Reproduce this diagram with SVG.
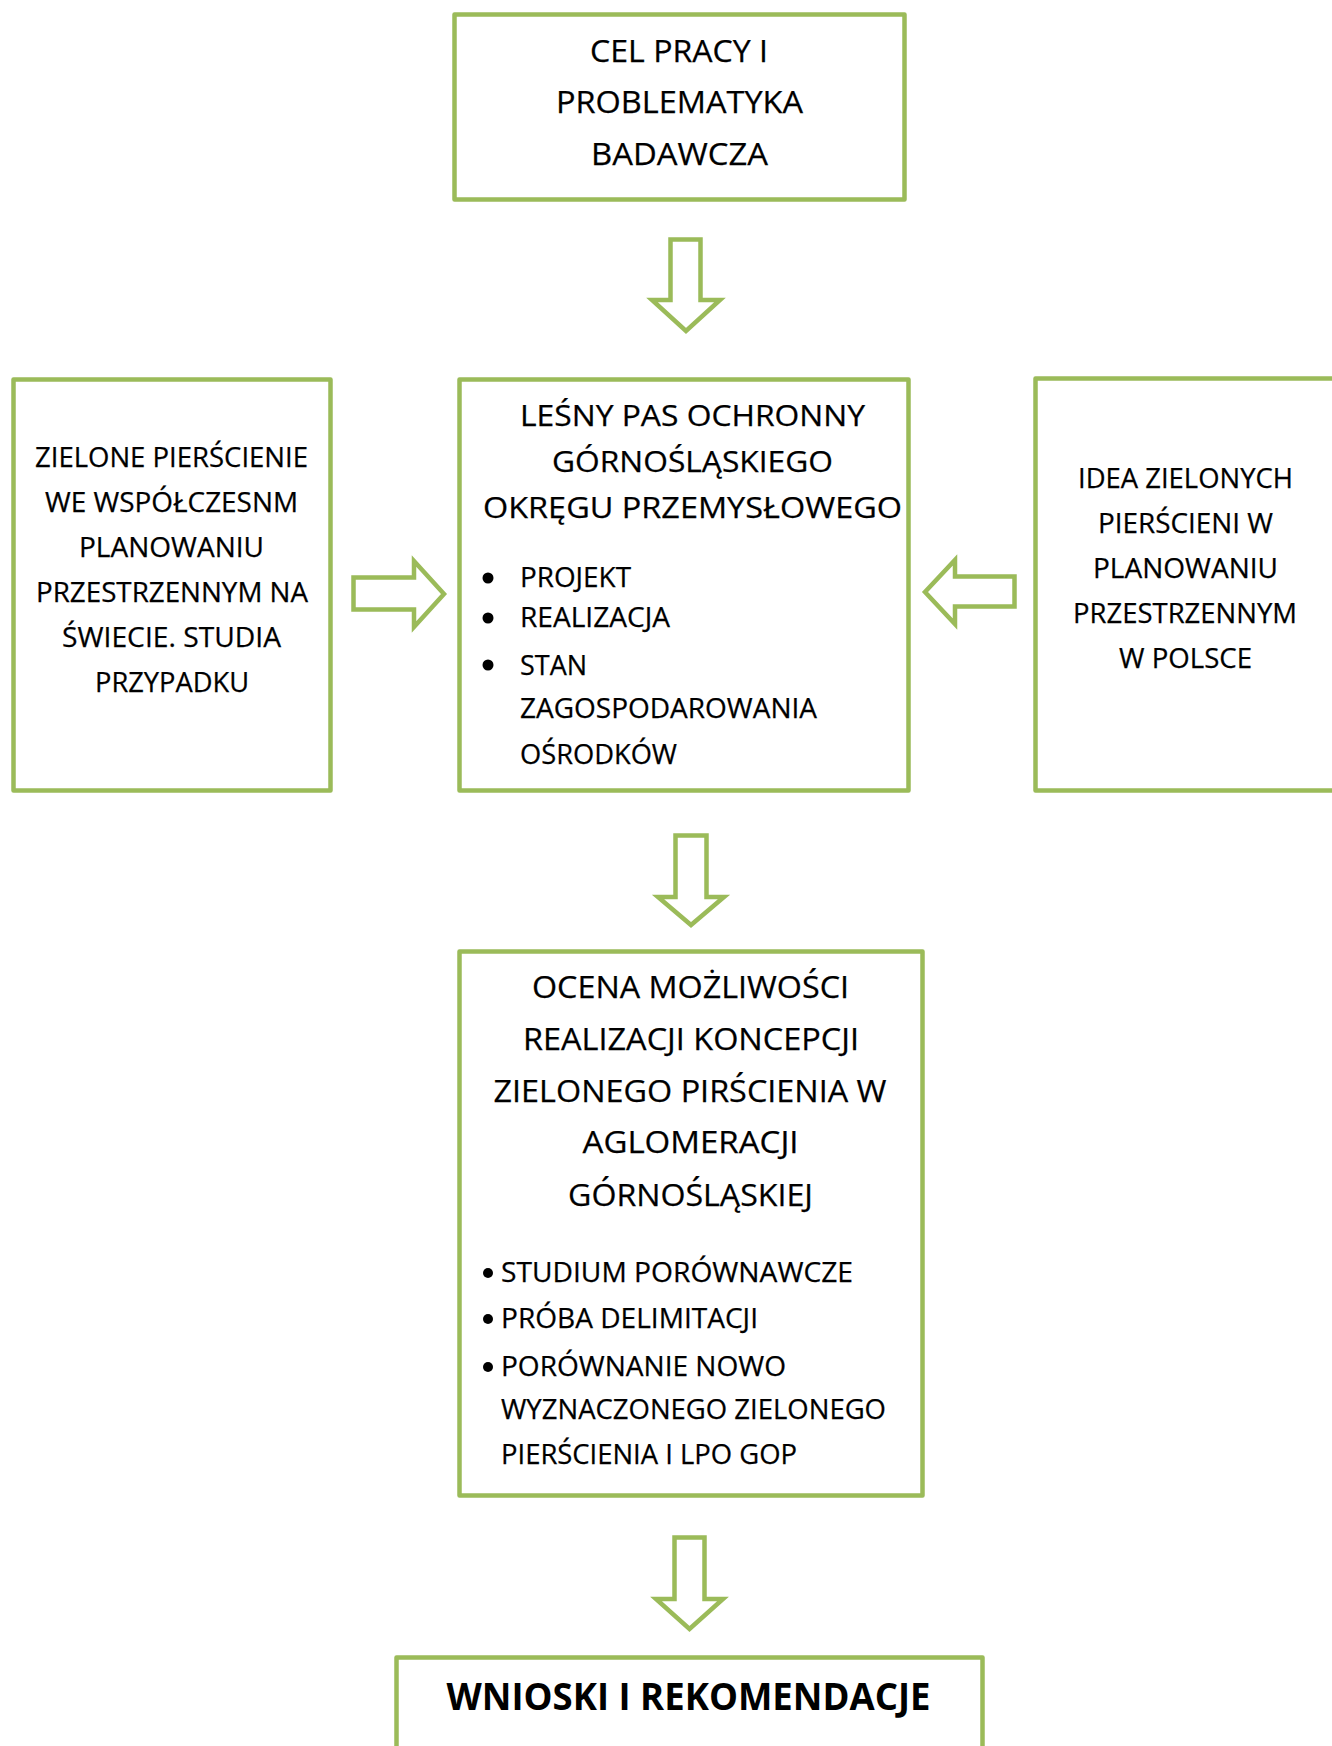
<svg xmlns="http://www.w3.org/2000/svg" width="1332" height="1746" viewBox="0 0 1332 1746">
<style>
.box{fill:#ffffff;stroke:#9BBB59;stroke-width:4.5;stroke-linejoin:round}
.arr{fill:#ffffff;stroke:#9BBB59;stroke-width:4.5;stroke-linejoin:miter}
text{font-family:"Open Sans","Liberation Sans",sans-serif;fill:#000000;stroke:#000000;stroke-width:0.25}
.c{text-anchor:middle}
.t31{font-size:31px}
.t29{font-size:29px}
.t27{font-size:27px}
.b{font-size:37px;font-weight:bold;stroke-width:0}
.dot{fill:#000000}
</style>
<rect width="1332" height="1746" fill="#ffffff"/>
<g id="connectors">
<polygon class="arr" points="670.5,239.5 700.5,239.5 700.5,300 720,300 686,331 652,300 670.5,300"/>
<polygon class="arr" points="353.5,577.5 414,577.5 414,561 444,594 414,627 414,609.5 353.5,609.5"/>
<polygon class="arr" points="1014.5,576.5 955,576.5 955,560 925,592 955,624 955,606.5 1014.5,606.5"/>
<polygon class="arr" points="675.5,835.5 706.5,835.5 706.5,897 724,897 691,925 658,897 675.5,897"/>
<polygon class="arr" points="674.5,1537.5 704.5,1537.5 704.5,1599 723,1599 689.5,1629 656,1599 674.5,1599"/>
</g>
<g id="node-cel">
<rect class="box" x="454.5" y="14.5" width="450" height="185"/>
<text class="c t31" x="679" y="62" textLength="178" lengthAdjust="spacingAndGlyphs">CEL PRACY I</text>
<text class="c t31" x="679.5" y="113" textLength="247" lengthAdjust="spacingAndGlyphs">PROBLEMATYKA</text>
<text class="c t31" x="679.5" y="165" textLength="177" lengthAdjust="spacingAndGlyphs">BADAWCZA</text>
</g>
<g id="node-zielone">
<rect class="box" x="13.5" y="379.5" width="317" height="411"/>
<text class="c t27" x="171.5" y="467" textLength="273" lengthAdjust="spacingAndGlyphs">ZIELONE PIERŚCIENIE</text>
<text class="c t27" x="171.5" y="512" textLength="253" lengthAdjust="spacingAndGlyphs">WE WSPÓŁCZESNM</text>
<text class="c t27" x="171.5" y="557" textLength="185" lengthAdjust="spacingAndGlyphs">PLANOWANIU</text>
<text class="c t27" x="172" y="602" textLength="272" lengthAdjust="spacingAndGlyphs">PRZESTRZENNYM NA</text>
<text class="c t27" x="171.5" y="647" textLength="219" lengthAdjust="spacingAndGlyphs">ŚWIECIE. STUDIA</text>
<text class="c t27" x="172" y="692" textLength="154" lengthAdjust="spacingAndGlyphs">PRZYPADKU</text>
</g>
<g id="node-lesny">
<rect class="box" x="459.5" y="379.5" width="449" height="411"/>
<text class="c t29" x="692.5" y="426" textLength="345" lengthAdjust="spacingAndGlyphs">LEŚNY PAS OCHRONNY</text>
<text class="c t29" x="692.5" y="472" textLength="281" lengthAdjust="spacingAndGlyphs">GÓRNOŚLĄSKIEGO</text>
<text class="c t29" x="692.5" y="518" textLength="419" lengthAdjust="spacingAndGlyphs">OKRĘGU PRZEMYSŁOWEGO</text>
<circle class="dot" cx="488" cy="578" r="5.5"/>
<circle class="dot" cx="488" cy="618" r="5.5"/>
<circle class="dot" cx="488" cy="665" r="5.5"/>
<text class="t27" x="520" y="587" textLength="111" lengthAdjust="spacingAndGlyphs">PROJEKT</text>
<text class="t27" x="520" y="627" textLength="150" lengthAdjust="spacingAndGlyphs">REALIZACJA</text>
<text class="t27" x="520" y="675" textLength="67" lengthAdjust="spacingAndGlyphs">STAN</text>
<text class="t27" x="520" y="718" textLength="297" lengthAdjust="spacingAndGlyphs">ZAGOSPODAROWANIA</text>
<text class="t27" x="520" y="764" textLength="157" lengthAdjust="spacingAndGlyphs">OŚRODKÓW</text>
</g>
<g id="node-idea">
<rect class="box" x="1035.5" y="378.5" width="320" height="412"/>
<text class="c t27" x="1185.5" y="488" textLength="215" lengthAdjust="spacingAndGlyphs">IDEA ZIELONYCH</text>
<text class="c t27" x="1185.5" y="533" textLength="175" lengthAdjust="spacingAndGlyphs">PIERŚCIENI W</text>
<text class="c t27" x="1185.5" y="578" textLength="185" lengthAdjust="spacingAndGlyphs">PLANOWANIU</text>
<text class="c t27" x="1185" y="623" textLength="224" lengthAdjust="spacingAndGlyphs">PRZESTRZENNYM</text>
<text class="c t27" x="1185.5" y="668" textLength="133" lengthAdjust="spacingAndGlyphs">W POLSCE</text>
</g>
<g id="node-ocena">
<rect class="box" x="459.5" y="951.5" width="463" height="544"/>
<text class="c t31" x="690.5" y="998" textLength="317" lengthAdjust="spacingAndGlyphs">OCENA MOŻLIWOŚCI</text>
<text class="c t31" x="691" y="1050" textLength="336" lengthAdjust="spacingAndGlyphs">REALIZACJI KONCEPCJI</text>
<text class="c t31" x="690" y="1102" textLength="393" lengthAdjust="spacingAndGlyphs">ZIELONEGO PIRŚCIENIA W</text>
<text class="c t31" x="690.5" y="1153" textLength="216" lengthAdjust="spacingAndGlyphs">AGLOMERACJI</text>
<text class="c t31" x="690.5" y="1206" textLength="245" lengthAdjust="spacingAndGlyphs">GÓRNOŚLĄSKIEJ</text>
<circle class="dot" cx="488" cy="1273" r="5"/>
<circle class="dot" cx="488" cy="1319" r="5"/>
<circle class="dot" cx="488" cy="1367" r="5"/>
<text class="t27" x="501" y="1282" textLength="352" lengthAdjust="spacingAndGlyphs">STUDIUM PORÓWNAWCZE</text>
<text class="t27" x="501" y="1328" textLength="257" lengthAdjust="spacingAndGlyphs">PRÓBA DELIMITACJI</text>
<text class="t27" x="501" y="1376" textLength="285" lengthAdjust="spacingAndGlyphs">PORÓWNANIE NOWO</text>
<text class="t27" x="501" y="1419" textLength="385" lengthAdjust="spacingAndGlyphs">WYZNACZONEGO ZIELONEGO</text>
<text class="t27" x="501" y="1464" textLength="296" lengthAdjust="spacingAndGlyphs">PIERŚCIENIA I LPO GOP</text>
</g>
<g id="node-wnioski">
<rect class="box" x="396.5" y="1657.5" width="586" height="120"/>
<text class="c b" x="688.5" y="1710" textLength="484" lengthAdjust="spacingAndGlyphs">WNIOSKI I REKOMENDACJE</text>
</g>
</svg>
